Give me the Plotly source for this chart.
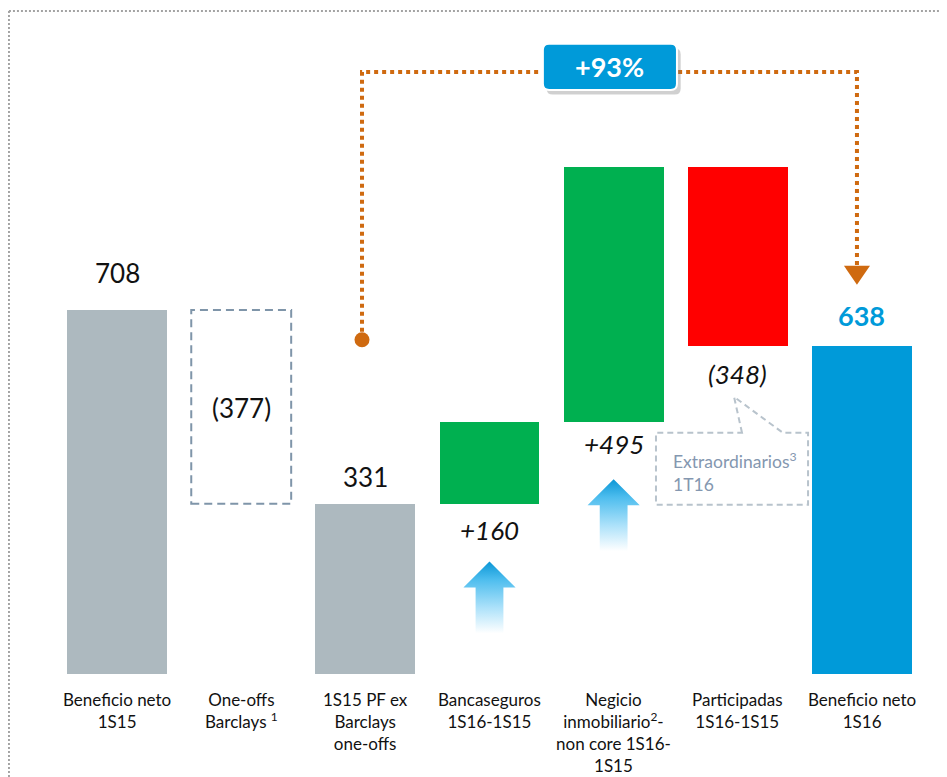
import plotly.graph_objects as go

# ---------------- data ----------------
categories = [
    "Beneficio neto<br>1S15",
    "One-offs<br>Barclays <sup>1</sup>",
    "1S15 PF ex<br>Barclays<br>one-offs",
    "Bancaseguros<br>1S16-1S15",
    "Negicio<br>inmobiliario<sup>2</sup>-<br>non core 1S16-<br>1S15",
    "Participadas<br>1S16-1S15",
    "Beneficio neto<br>1S16",
]
values = [708, -377, 331, 160, 495, -348, 638]
measures = ["absolute", "relative", "total", "relative", "relative", "relative", "total"]
value_labels = ["708", "(377)", "331", "+160", "+495", "(348)", "638"]
growth_label = "+93%"
callout_lines = ["Extraordinarios<sup>3</sup>", "1T16"]

# ---------------- styles ----------------
GRAY = "#adb9bf"
GREEN = "#00b050"
RED = "#ff0000"
BLUE = "#009ad9"
ORANGE = "#cf6a10"
DASHGRAY = "#7f95a9"
bar_colors = [GRAY, "rgba(0,0,0,0)", GRAY, GREEN, GREEN, RED, BLUE]
FONT = "Lato, 'Open Sans', sans-serif"
BAR_W = 0.805

# compute bases / heights from the waterfall data
bases, heights, tops, bottoms = [], [], [], []
running = 0
for v, m in zip(values, measures):
    if m == "absolute":
        lo, hi = 0, v
        running = v
    elif m == "total":
        lo, hi = 0, running
    else:
        lo, hi = sorted([running, running + v])
        running += v
    bases.append(lo)
    heights.append(hi - lo)
    tops.append(hi)
    bottoms.append(lo)

idx = list(range(len(categories)))

fig = go.Figure()
fig.add_trace(go.Bar(
    x=idx, y=heights, base=bases, width=BAR_W,
    marker=dict(color=bar_colors, line=dict(width=0)),
    hoverinfo="skip", showlegend=False,
))

# dashed outline for the one-off bar
fig.add_shape(type="rect", xref="x", yref="y",
              x0=1 - BAR_W / 2, x1=1 + BAR_W / 2, y0=bottoms[1], y1=tops[1],
              line=dict(color=DASHGRAY, width=2, dash="8px,5px"), fillcolor="rgba(0,0,0,0)")

# gradient up arrows under the positive deltas
for i in [3, 4]:
    b = bottoms[i]
    tip, headb, bot = b - 112, b - 163, b - 252
    hw, sw = 0.21, 0.112
    xs = [i, i + hw, i + sw, i + sw, i - sw, i - sw, i - hw, i]
    ys = [tip, headb, headb, bot, bot, headb, headb, tip]
    fig.add_trace(go.Scatter(
        x=xs, y=ys, mode="lines", fill="toself", line=dict(width=0),
        fillgradient=dict(type="vertical",
                          colorscale=[[0, "rgba(255,255,255,1)"], [0.35, "#aee2fa"],
                                      [0.75, "#4dbdee"], [1, "#0a96d6"]]),
        hoverinfo="skip", showlegend=False,
    ))

# value labels
label_specs = [
    dict(y=tops[0], yanchor="bottom", yshift=19, italic=False),
    dict(y=(tops[1] + bottoms[1]) / 2, yanchor="middle", yshift=-1, italic=False),
    dict(y=tops[2], yanchor="bottom", yshift=9, italic=False),
    dict(y=bottoms[3], yanchor="top", yshift=-8, italic=True),
    dict(y=bottoms[4], yanchor="top", yshift=-4, italic=True),
    dict(y=bottoms[5], yanchor="top", yshift=-10, italic=True),
    dict(y=tops[6], yanchor="bottom", yshift=12, italic=False),
]
for i, (lab, sp) in enumerate(zip(value_labels, label_specs)):
    is_last = i == len(values) - 1
    txt = f"<i>{lab}</i>" if sp["italic"] else (f"<b>{lab}</b>" if is_last else lab)
    fig.add_annotation(x=i, y=sp["y"], xref="x", yref="y", text=txt, showarrow=False,
                       yanchor=sp["yanchor"], yshift=sp["yshift"],
                       font=dict(family=FONT, size=26 if not is_last else 27,
                                 color=BLUE if is_last else "#111111"))

# category labels
for i, c in enumerate(categories):
    fig.add_annotation(x=i, y=0, xref="x", yref="y", text=c, showarrow=False,
                       yanchor="top", yshift=-13, align="center",
                       font=dict(family=FONT, size=17, color="#111111"))

# orange dotted connector (bar 3 -> bar 7)
x_from, x_to = 2 - 0.027, 6 - 0.04
y_dot, y_top, y_end = 650, 1171, 790
fig.add_trace(go.Scatter(
    x=[x_from, x_from, x_to, x_to], y=[y_dot, y_top, y_top, y_end],
    mode="lines", line=dict(color=ORANGE, width=4, dash="4px,4px"),
    hoverinfo="skip", showlegend=False,
))
fig.add_trace(go.Scatter(
    x=[x_from], y=[y_dot], mode="markers",
    marker=dict(color=ORANGE, size=15, line=dict(width=0)),
    hoverinfo="skip", showlegend=False,
))
fig.add_trace(go.Scatter(
    x=[x_to - 0.105, x_to + 0.105, x_to, x_to - 0.105],
    y=[y_end + 4, y_end + 4, 757, y_end + 4],
    mode="lines", fill="toself", fillcolor=ORANGE, line=dict(width=0, color=ORANGE),
    hoverinfo="skip", showlegend=False,
))

# +93% box with shadow
def rounded(x0, x1, y0, y1, rx, ry):
    return (f"M {x0+rx},{y0} L {x1-rx},{y0} Q {x1},{y0} {x1},{y0+ry} "
            f"L {x1},{y1-ry} Q {x1},{y1} {x1-rx},{y1} L {x0+rx},{y1} "
            f"Q {x0},{y1} {x0},{y1-ry} L {x0},{y0+ry} Q {x0},{y0} {x0+rx},{y0} Z")

bx0, bx1, by0, by1 = 3.43, 4.51, 1136, 1226
fig.add_shape(type="path", xref="x", yref="y",
              path=rounded(bx0 + 0.03, bx1 + 0.03, by0 - 9, by1 - 9, 0.05, 12),
              fillcolor="rgba(120,120,120,0.35)", line=dict(width=0), layer="above")
fig.add_shape(type="path", xref="x", yref="y",
              path=rounded(bx0, bx1, by0, by1, 0.05, 12),
              fillcolor=BLUE, line=dict(color="white", width=2), layer="above")
fig.add_annotation(x=(bx0 + bx1) / 2, y=(by0 + by1) / 2, xref="x", yref="y",
                   text=f"<b>{growth_label}</b>", showarrow=False,
                   font=dict(family=FONT, size=27, color="white"))

# callout "Extraordinarios 1T16"
cx0, cx1, cy0, cy1 = 4.341, 5.566, 329, 469
t1, tip_x, t2, tip_y = 5.034, 4.97, 5.364, 539
fig.add_shape(type="path", xref="x", yref="y",
              path=(f"M {t1},{cy1} L {tip_x},{tip_y} L {t2},{cy1} L {cx1},{cy1} "
                    f"L {cx1},{cy0} L {cx0},{cy0} L {cx0},{cy1} Z"),
              line=dict(color="#b8c3cc", width=2, dash="6px,4px"), fillcolor="white")
fig.add_annotation(x=cx0 + 0.12, y=(cy0 + cy1) / 2, xref="x", yref="y",
                   text="<br>".join(callout_lines), showarrow=False,
                   xanchor="left", align="left", yshift=-3,
                   font=dict(family=FONT, size=17.5, color="#8497b0"))

# outer dotted frame (top and left edges)
fig.add_shape(type="line", xref="paper", yref="paper", x0=-0.053, x1=1.05, y0=1.0138, y1=1.0138,
              line=dict(color="#a3a3a3", width=2, dash="2px,2px"))
fig.add_shape(type="line", xref="paper", yref="paper", x0=-0.053, x1=-0.053, y0=1.0138, y1=-0.2,
              line=dict(color="#a3a3a3", width=2, dash="2px,2px"))

fig.update_layout(
    width=947, height=777,
    margin=dict(l=47, r=31, t=12, b=111),
    paper_bgcolor="white", plot_bgcolor="white",
    bargap=0, showlegend=False,
    xaxis=dict(range=[-0.5, 6.5], showgrid=False, zeroline=False, showticklabels=False,
               showline=False, fixedrange=True),
    yaxis=dict(range=[0, 1272], showgrid=False, zeroline=False, showticklabels=False,
               showline=False, fixedrange=True),
    font=dict(family=FONT),
)

fig.write_html("out.html")
